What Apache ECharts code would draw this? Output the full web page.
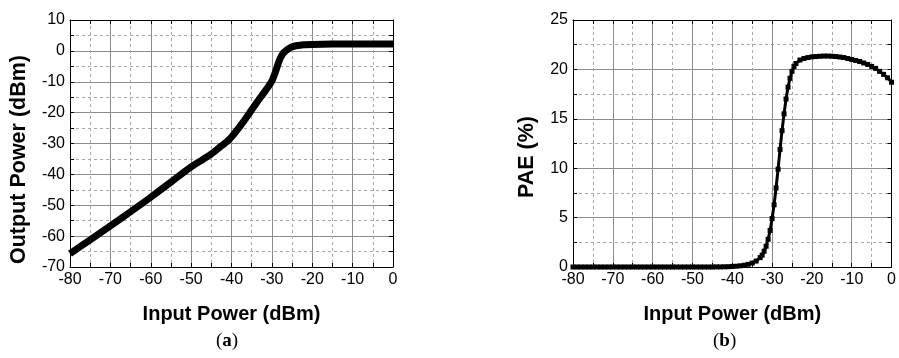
<!DOCTYPE html>
<html>
<head>
    <meta charset="utf-8">
    <title>Output Power and PAE vs Input Power</title>
    <script src="https://cdn.jsdelivr.net/npm/echarts@6.0.0/dist/echarts.min.js"></script>
    <style>
        body, html {
            margin: 0;
            padding: 0;
            background: #fff;
        }
        #main {
            width: 899px;
            height: 358px;
        }
    </style>
</head>
<body>
    <div id="main"></div>

    <script>
        // (a) output power vs input power
        var pinA = [-80, -75, -70, -65, -60, -55, -50, -47, -45, -43, -41, -40, -38, -36, -34, -32, -31, -30,
                    -29.5, -29, -28.5, -28, -27.5, -27, -26.5, -26, -25.5, -25, -24, -23, -22, -20, -15, -10, -5, 0];
        var poutA = [-65.7, -61.2, -56.7, -52.1, -47.4, -42.5, -37.6, -35.1, -33.4, -31.3, -29.2, -27.9, -24.6,
                     -21.0, -17.2, -13.6, -11.8, -9.8, -8.2, -6.4, -4.4, -2.6, -1.4, -0.5, 0.1, 0.6, 1.0, 1.3,
                     1.65, 1.85, 1.95, 2.1, 2.2, 2.25, 2.25, 2.25];

        // (b) PAE vs input power
        var pinB = [-80, -79, -78, -77, -76, -75, -74, -73, -72, -71,
                    -70, -69, -68, -67, -66, -65, -64, -63, -62, -61,
                    -60, -59, -58, -57, -56, -55, -54, -53, -52, -51,
                    -50, -49, -48, -47, -46, -45, -44, -43, -42, -41,
                    -40, -39, -38, -37, -36, -35, -34,
                    -33, -32.5, -32, -31.5, -31, -30.5, -30, -29.5, -29, -28.5,
                    -28, -27.5, -27, -26.5, -26, -25.5, -25, -24.5, -24,
                    -23, -22, -21, -20, -19, -18, -17, -16, -15, -14,
                    -13, -12, -11, -10, -9, -8, -7, -6, -5, -4, -3, -2, -1, 0];
        var paeB = [0, 0, 0, 0, 0, 0, 0, 0, 0, 0,
                    0, 0, 0, 0, 0, 0, 0, 0, 0, 0,
                    0, 0, 0, 0, 0, 0, 0, 0, 0, 0,
                    0, 0, 0, 0, 0, 0, 0.01, 0.01, 0.02, 0.03,
                    0.05, 0.08, 0.12, 0.18, 0.27, 0.4, 0.6,
                    0.95, 1.2, 1.6, 2.1, 2.8, 3.7, 4.9, 6.3, 8.0, 9.9,
                    11.9, 13.8, 15.5, 17.0, 18.2, 19.1, 19.8, 20.3, 20.6,
                    20.95, 21.1, 21.2, 21.27, 21.3, 21.33, 21.35, 21.35, 21.33, 21.3,
                    21.25, 21.2, 21.1, 21.0, 20.9, 20.8, 20.65, 20.5, 20.3, 20.1, 19.8, 19.5, 19.15, 18.7];

        var xTicks = [-80, 0, 10];      // min, max, step
        var yTicksA = [-70, 10, 10];
        var yTicksB = [0, 25, 5];

        var FONT = '"Liberation Sans", Arial, sans-serif';

        function zip(xs, ys) {
            return xs.map(function (x, i) { return [x, ys[i]]; });
        }

        function axis(grid, pos, ticks, main) {
            return {
                type: 'value',
                gridIndex: grid,
                position: pos,
                min: ticks[0],
                max: ticks[1],
                interval: ticks[2],
                axisLine: { show: true, onZero: false, lineStyle: { color: '#000', width: 1 } },
                axisTick: { show: true, inside: true, length: 4, lineStyle: { color: '#000' } },
                minorTick: { show: true, splitNumber: 2, length: 4, lineStyle: { color: '#000' } },
                axisLabel: {
                    show: main,
                    color: '#000',
                    fontFamily: FONT,
                    fontSize: 16,
                    margin: 5,
                    showMinLabel: true,
                    showMaxLabel: true
                },
                splitLine: { show: main, lineStyle: { color: '#8c8c8c', width: 1 } },
                minorSplitLine: { show: main, lineStyle: { color: '#a8a8a8', width: 1, type: [3, 3] } }
            };
        }

        function nameStyle(size, pad) {
            return {
                color: '#000',
                fontFamily: FONT,
                fontWeight: 'bold',
                fontSize: size,
                padding: pad
            };
        }

        var xa0 = axis(0, 'bottom', xTicks, true);
        xa0.name = 'Input Power (dBm)';
        xa0.nameLocation = 'middle';
        xa0.nameGap = 37;
        xa0.nameTextStyle = nameStyle(20, 0);

        var xa1 = axis(1, 'bottom', xTicks, true);
        xa1.name = 'Input Power (dBm)';
        xa1.nameLocation = 'middle';
        xa1.nameGap = 37;
        xa1.nameTextStyle = nameStyle(20, 0);

        var ya0 = axis(0, 'left', yTicksA, true);
        ya0.name = 'Output Power (dBm)';
        ya0.nameLocation = 'middle';
        ya0.nameGap = 40;
        ya0.nameTextStyle = nameStyle(21.5, [0, 32, 0, 0]);

        var ya1 = axis(1, 'left', yTicksB, true);
        ya1.name = 'PAE (%)';
        ya1.nameLocation = 'middle';
        ya1.nameGap = 35;
        ya1.nameTextStyle = nameStyle(21.5, [0, 27, 0, 0]);

        var chart = echarts.init(document.getElementById('main'));

        var option = {
            backgroundColor: '#fff',
            animation: false,
            grid: [
                { left: 70, right: 506, top: 20, bottom: 91 },
                { left: 573, right: 4, top: 20, bottom: 91 }
            ],
            xAxis: [
                xa0, xa1,
                axis(0, 'top', xTicks, false),
                axis(1, 'top', xTicks, false)
            ],
            yAxis: [
                ya0, ya1,
                axis(0, 'right', yTicksA, false),
                axis(1, 'right', yTicksB, false)
            ],
            graphic: [
                {
                    type: 'text', left: 216, top: 332,
                    style: {
                        text: '({a|a})',
                        font: '19px "Liberation Serif", "DejaVu Serif", serif',
                        fill: '#000',
                        rich: { a: { fontWeight: 'bold', fontSize: 19, fontFamily: '"Liberation Serif", serif' } }
                    }
                },
                {
                    type: 'text', left: 713, top: 332,
                    style: {
                        text: '({a|b})',
                        font: '19px "Liberation Serif", "DejaVu Serif", serif',
                        fill: '#000',
                        rich: { a: { fontWeight: 'bold', fontSize: 19, fontFamily: '"Liberation Serif", serif' } }
                    }
                }
            ],
            series: [
                {
                    type: 'line',
                    xAxisIndex: 0,
                    yAxisIndex: 0,
                    data: zip(pinA, poutA),
                    smooth: 0.25,
                    showSymbol: false,
                    lineStyle: { color: '#000', width: 7, join: 'round', cap: 'butt' }
                },
                {
                    type: 'line',
                    xAxisIndex: 1,
                    yAxisIndex: 1,
                    data: zip(pinB, paeB),
                    clip: false,
                    symbol: 'rect',
                    symbolSize: 5,
                    itemStyle: { color: '#000' },
                    lineStyle: { color: '#000', width: 3, join: 'round' }
                }
            ]
        };

        chart.setOption(option);

        window.addEventListener('resize', function () {
            chart.resize();
        });
    </script>
</body>
</html>
